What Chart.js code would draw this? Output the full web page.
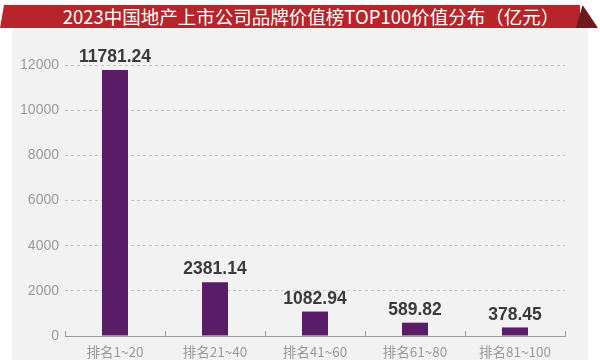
<!DOCTYPE html>
<html>
<head>
<meta charset="utf-8">
<script src="https://cdn.jsdelivr.net/npm/chart.js@4"></script>
<style>
  body { margin: 0; background: #fff; }
  #wrap { position: relative; width: 600px; height: 360px; overflow: hidden; }
  #panel { position: absolute; left: 12px; top: 28px; width: 576px; height: 332px; background: #f2f2f2; }
  #bar { position: absolute; left: 0; top: 5px; width: 580px; height: 23px; background: #b5252b;
         clip-path: polygon(4px 0, 100% 0, 100% 100%, 0 100%); }
  #fold { position: absolute; left: 576px; top: 5px; width: 22px; height: 23px; background: #6e1a1c;
          clip-path: polygon(30% 0, 100% 100%, 0 100%); }
  #title { position: absolute; left: 0; top: 4px; width: 622px; text-align: center; color: #fff;
           font: 18.5px "Noto Sans CJK SC", "Liberation Sans", sans-serif; line-height: 24px; }
  canvas { position: absolute; left: 0; top: 0; }
</style>
</head>
<body>
<div id="wrap">
  <div id="panel"></div>
  <div id="bar"></div>
  <div id="fold"></div>
  <div id="title">2023中国地产上市公司品牌价值榜TOP100价值分布（亿元）</div>
  <canvas id="grafico" width="600" height="360"></canvas>
</div>
<script>
// dados do gráfico
var faixas = ['排名1~20', '排名21~40', '排名41~60', '排名61~80', '排名81~100'];
var valores = [11781.24, 2381.14, 1082.94, 589.82, 378.45];
var rotulos = ['11781.24', '2381.14', '1082.94', '589.82', '378.45'];
var marcasY = [0, 2000, 4000, 6000, 8000, 10000, 12000];

var fonteNum = '"Liberation Sans", Arial, sans-serif';
var fonteCJK = '"Noto Sans CJK SC", "Liberation Sans", sans-serif';

// rótulos de valor acima das barras + tracinhos do eixo x
var extras = {
  id: 'extras',
  afterDatasetsDraw: function(chart) {
    var ctx = chart.ctx;
    var meta = chart.getDatasetMeta(0);
    ctx.save();
    ctx.fillStyle = '#3a3a3a';
    ctx.font = 'bold 17.5px ' + fonteNum;
    ctx.textAlign = 'center';
    ctx.textBaseline = 'bottom';
    meta.data.forEach(function(barra, i) {
      ctx.fillText(rotulos[i], barra.x, barra.y - 4);
    });
    var x = chart.scales.x;
    var n = faixas.length;
    ctx.strokeStyle = '#999';
    ctx.lineWidth = 1;
    for (var i = 0; i <= n; i++) {
      var px = Math.round(x.left + i * (x.right - x.left) / n) + 0.5;
      ctx.beginPath();
      ctx.moveTo(px, x.top - 5);
      ctx.lineTo(px, x.top);
      ctx.stroke();
    }
    ctx.restore();
  }
};

new Chart(document.getElementById('grafico').getContext('2d'), {
  type: 'bar',
  data: {
    labels: faixas,
    datasets: [{
      data: valores,
      backgroundColor: '#581d66',
      barPercentage: 0.26,
      categoryPercentage: 1
    }]
  },
  options: {
    responsive: false,
    animation: false,
    layout: { padding: { left: 0, right: 35, top: 65, bottom: 0 } },
    plugins: { legend: { display: false }, tooltip: { enabled: false } },
    scales: {
      x: {
        afterFit: function(scale) { scale.height = 24; },
        grid: { display: false },
        border: { display: true, color: '#999', width: 1 },
        ticks: { color: '#999', font: { family: fonteCJK, size: 13.5 }, padding: 0 }
      },
      y: {
        min: 0,
        max: 12000,
        afterFit: function(scale) { scale.width = 65; },
        afterBuildTicks: function(scale) {
          scale.ticks = marcasY.map(function(v) { return { value: v }; });
        },
        grid: { color: '#c4c4c4', drawTicks: false },
        border: { display: true, color: 'rgba(0,0,0,0)', width: 0, dash: [3, 3] },
        ticks: {
          color: '#9a9a9a', font: { family: fonteNum, size: 14 }, padding: 6,
          callback: function(v) { return String(v); }
        }
      }
    }
  },
  plugins: [extras]
});
</script>
</body>
</html>
